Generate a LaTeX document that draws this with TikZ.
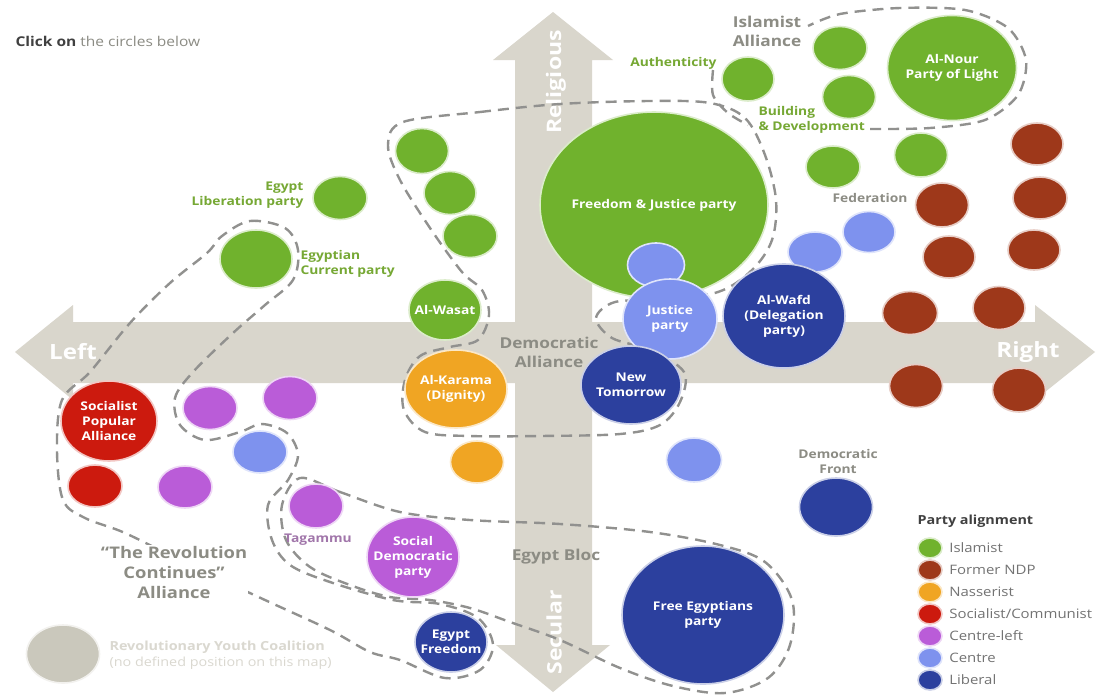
\documentclass[tikz,border=0pt]{standalone}
\usepackage{fontspec}
\setmainfont{Open Sans}[FakeStretch=1.15]
\usetikzlibrary{shapes.geometric,positioning}

\definecolor{axisgray}{RGB}{217,214,204}
\definecolor{dashgray}{RGB}{145,145,143}
\definecolor{labgray}{RGB}{140,140,132}
\definecolor{isl}{RGB}{112,178,45}
\definecolor{isltext}{RGB}{118,168,52}
\definecolor{ndp}{RGB}{158,56,26}
\definecolor{nas}{RGB}{240,165,35}
\definecolor{soc}{RGB}{204,26,14}
\definecolor{cleft}{RGB}{186,92,216}
\definecolor{centreblue}{RGB}{126,146,238}
\definecolor{lib}{RGB}{44,64,158}
\definecolor{youth}{RGB}{202,200,188}

\tikzset{
  party/.style={ellipse, fill=#1, draw=#1!25, line width=1.6pt, inner sep=0pt},
  sz/.style 2 args={minimum width=#1pt, minimum height=#2pt},
  inlbl/.style={text=white, align=center, inner sep=0pt, font=\bfseries\fontsize{12}{15}\selectfont},
  islamist/.style={party=isl},
  formerndp/.style={party=ndp},
  nasserist/.style={party=nas},
  socialist/.style={party=soc},
  centreleft/.style={party=cleft},
  centrist/.style={party=centreblue},
  liberal/.style={party=lib},
  alliance/.style={draw=dashgray, line width=2.4pt, dash pattern=on 11pt off 7pt},
  tag/.style={text=labgray, align=center, font=\bfseries\fontsize{15}{19}\selectfont},
  smalltag/.style={tag, font=\bfseries\fontsize{12}{15}\selectfont},
  gtag/.style={text=isltext, font=\bfseries\fontsize{12}{15}\selectfont},
  axislbl/.style={text=white, font=\bfseries\fontsize{21}{24}\selectfont},
  key/.style={text=black!55, anchor=west, font=\fontsize{13}{15}\selectfont}
}

\begin{document}
\begin{tikzpicture}[x=1pt,y=-1pt]
\fill[white] (0,0) rectangle (1099,694);
\useasboundingbox (0,0) rectangle (1099,694);

% the two axes
\fill[axisgray] (15,352) -- (73,305) -- (73,322) -- (1035,322) -- (1035,305) -- (1095,352)
  -- (1035,400) -- (1035,383) -- (73,383) -- (73,400) -- cycle;
\fill[axisgray] (553,12) -- (613,60) -- (592,60) -- (592,645) -- (610,645) -- (553,692)
  -- (496,645) -- (515,645) -- (515,60) -- (493,60) -- cycle;
\node[axislbl] (lft) at (73,352) {Left};
\node[axislbl] (rgt) at (1028,352) {Right};
\node[axislbl, rotate=90, font=\bfseries\fontsize{20}{22}\selectfont] (rel) at (556,82) {Religious};
\node[axislbl, rotate=90, font=\bfseries\fontsize{20}{22}\selectfont] (sec) at (554,632) {Secular};

% alliances
\draw[alliance] plot[smooth] coordinates {(870,129) (930,128) (985,120) (1018,95) (1026,60)
  (1008,28) (965,10) (900,8) (840,14) (808,26)};
\draw[alliance] plot[smooth] coordinates {(713,70) (713,95) (728,113) (748,125)};
\draw[alliance] plot[smooth cycle, tension=0.55] coordinates {(403,122) (480,112) (560,104)
  (650,101) (710,103) (745,118) (765,155) (776,200) (772,240) (752,270) (718,292) (660,300)
  (615,302) (596,318) (612,338) (650,350) (684,372) (680,402) (660,425) (620,434) (540,436)
  (470,436) (425,432) (404,410) (405,380) (420,356) (450,347) (478,340) (489,315) (482,290)
  (462,272) (430,228) (400,180) (388,145)};
\draw[alliance] plot[smooth cycle, tension=0.55] coordinates {(222,236) (250,221) (285,228)
  (298,250) (293,280) (265,305) (233,333) (193,372) (175,398) (180,425) (205,440) (240,432)
  (262,424) (287,433) (298,455) (288,480) (268,505) (272,540) (290,565) (330,582) (393,600)
  (440,604) (478,618) (493,645) (480,670) (445,678) (400,660) (370,652) (330,630) (265,600)
  (190,565) (125,533) (85,518) (63,500) (57,450) (62,400) (90,372) (130,323) (170,283)
  (207,253)};
\draw[alliance] plot[smooth cycle, tension=0.55] coordinates {(300,478) (340,492) (400,512)
  (470,520) (560,524) (650,532) (720,545) (765,562) (792,600) (790,645) (768,678) (725,693)
  (673,686) (620,668) (560,640) (510,622) (470,608) (430,600) (390,597) (350,585) (310,567)
  (286,540) (282,505)};

% Islamist
\node[islamist, sz={228}{186}, label={[inlbl]center:Freedom \& Justice party}] (fjp) at (654,205) {};
\node[islamist, sz={129}{105}, label={[inlbl]center:{Al-Nour\\Party of Light}}] (nour) at (952,68) {};
\node[islamist, sz={52}{44}] (auth) at (748,79) {};
\node[islamist, sz={54}{43}] (isla) at (840,48) {};
\node[islamist, sz={53}{43}] (bld) at (849,97) {};
\node[islamist, sz={54}{42}] (islb) at (833,167) {};
\node[islamist, sz={53}{44}] (islc) at (921,155) {};
\node[islamist, sz={54}{43}] (elib) at (340,198) {};
\node[islamist, sz={72}{58}] (ecur) at (256,259) {};
\node[islamist, sz={53}{45}] (isld) at (422,151) {};
\node[islamist, sz={52}{43}] (isle) at (450,193) {};
\node[islamist, sz={54}{43}] (islf) at (470,236) {};
\node[islamist, sz={72}{60}, label={[inlbl]center:Al-Wasat}] (wasat) at (445,310) {};

% Former NDP
\node[formerndp, sz={52}{42}] (ndpa) at (1037,144) {};
\node[formerndp, sz={54}{42}] (ndpb) at (1040,198) {};
\node[formerndp, sz={53}{44}] (ndpc) at (942,205) {};
\node[formerndp, sz={52}{40}] (ndpd) at (1034,250) {};
\node[formerndp, sz={52}{42}] (ndpe) at (949,257) {};
\node[formerndp, sz={55}{43}] (ndpf) at (910,313) {};
\node[formerndp, sz={52}{43}] (ndpg) at (999,308) {};
\node[formerndp, sz={53}{43}] (ndph) at (916,386) {};
\node[formerndp, sz={53}{44}] (ndpi) at (1019,390) {};

% Centre
\node[centrist, sz={57}{44}] (cena) at (656,265) {};
\node[centrist, sz={94}{80}, label={[inlbl]center:{Justice\\party}}] (just) at (670,319) {};
\node[centrist, sz={52}{41}] (cenb) at (869,232) {};
\node[centrist, sz={54}{40}] (cenc) at (815,252) {};
\node[centrist, sz={55}{44}] (cend) at (694,460) {};
\node[centrist, sz={54}{42}] (cene) at (260,452) {};

% Liberal
\node[liberal, sz={122}{104}, label={[inlbl]center:{Al-Wafd\\(Delegation\\party)}}] (wafd) at (784,316) {};
\node[liberal, sz={100}{78}, label={[inlbl]center:{New\\Tomorrow}}] (ntom) at (631,385) {};
\node[liberal, sz={73}{58}] (dfront) at (836,507) {};
\node[liberal, sz={162}{138}, label={[inlbl]center:{Free Egyptians\\party}}] (freeeg) at (703,615) {};
\node[liberal, sz={72}{60}, label={[inlbl]center:{Egypt\\Freedom}}] (egfree) at (451,642) {};

% Nasserist
\node[nasserist, sz={102}{78}, label={[inlbl]center:{Al-Karama\\(Dignity)}}] (karama) at (456,389) {};
\node[nasserist, sz={53}{42}] (nasa) at (477,462) {};

% Socialist
\node[socialist, sz={96}{80}, label={[inlbl]center:{Socialist\\Popular\\Alliance}}] (spa) at (109,421) {};
\node[socialist, sz={54}{42}] (soca) at (95,486) {};

% Centre-left
\node[centreleft, sz={54}{43}] (cla) at (210,408) {};
\node[centreleft, sz={54}{43}] (clb) at (290,398) {};
\node[centreleft, sz={54}{42}] (clc) at (185,487) {};
\node[centreleft, sz={54}{44}] (tagm) at (316,506) {};
\node[centreleft, sz={92}{80}, label={[inlbl]center:{Social\\Democratic\\party}}] (sdp) at (413,557) {};

% names next to the circles
\node[gtag, anchor=east, align=right] (elibl) at (307,195) {Egypt\\Liberation party};
\node[gtag, anchor=west, align=left] (ecurl) at (297,264) {Egyptian\\Current party};
\node[gtag, anchor=east] (authl) at (720,63) {Authenticity};
\node[gtag, anchor=west, align=left] (bldl) at (755,120) {Building\\\& Development};
\node[tag] (isalli) at (767,31) {Islamist\\Alliance};
\node[smalltag] (fedl) at (870,198) {Federation};
\node[tag] (demalli) at (549,352) {Democratic\\Alliance};
\node[smalltag] (dfrontl) at (838,461) {Democratic\\Front};
\node[smalltag, text=cleft!45!labgray] (tagml) at (318,540) {Tagammu};
\node[tag] (bloc) at (556,557) {Egypt Bloc};
\node[tag, fill=white, inner sep=1pt, font=\bfseries\fontsize{16}{20}\selectfont] (revcont) at (174,572)
  {``The Revolution\\Continues''\\Alliance};

\node[anchor=west, text=labgray, font=\fontsize{13.5}{15}\selectfont] (click) at (12,41)
  {\textbf{\color{black!75}Click on} the circles below};

% legend
\node[party=youth, sz={73}{58}] (ryc) at (63,654) {};
\node[anchor=west, align=left, text=youth!70, font=\fontsize{12.5}{16}\selectfont] (rycl) at (106,655)
  {\textbf{Revolutionary Youth Coalition}\\(no defined position on this map)};
\node[anchor=west, text=black!75, font=\bfseries\fontsize{12.5}{14}\selectfont] (keyhead) at (914,521) {Party alignment};
\foreach \c/\t [count=\i] in {isl/Islamist, ndp/Former NDP, nas/Nasserist, soc/{Socialist/Communist},
    cleft/Centre-left, centreblue/Centre, lib/Liberal}
  {\node[party=\c, sz={24}{20}] (key\i) at (930,{526+22*\i}) {};
   \node[key, right=3pt of key\i] {\t};}
\end{tikzpicture}
\end{document}
